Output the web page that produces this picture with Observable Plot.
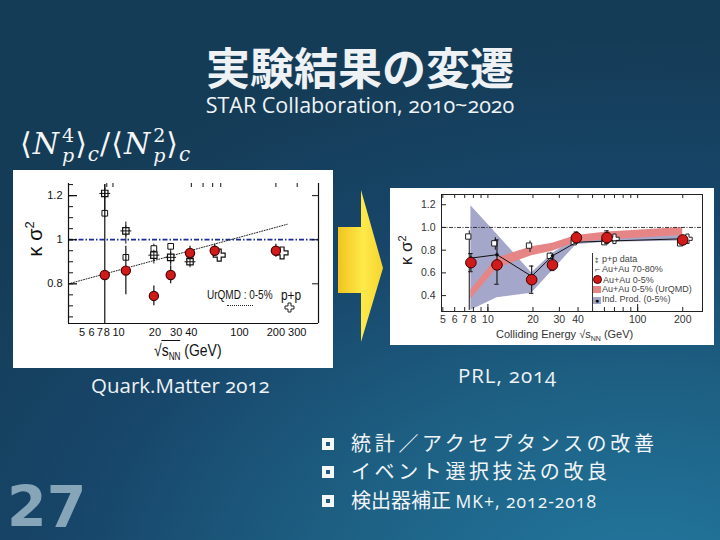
<!DOCTYPE html>
<html><head><meta charset="utf-8">
<script src="https://cdn.jsdelivr.net/npm/d3@7"></script>
<script src="https://cdn.jsdelivr.net/npm/@observablehq/plot@0.6"></script>
<style>
body{margin:0;background:#163f5b}
#slide{position:relative;width:720px;height:540px;overflow:hidden;
 background: radial-gradient(ellipse 820px 560px at 640px 600px, #2379a1 0%, #1d5f82 40%, #17466a 70%, #153c57 100%);
 font-family:"Open Sans",sans-serif;color:#f2f5f7}
.abs{position:absolute;white-space:nowrap;line-height:1}
.box{position:absolute;background:#fff;overflow:hidden}
.box svg{position:absolute;left:0;top:0}
.bul{position:absolute;left:322px;width:4px;height:4px;border:4px solid #f4f6f8}
.jp{font-family:"Noto Sans CJK JP",sans-serif}
.on{font-variant-numeric:oldstyle-nums}
.narrow{transform-origin:left center}
.stk{display:inline-block;vertical-align:-8px;line-height:1.05;font-size:19px;margin-left:2px}
</style></head><body>
<div id="slide">
  <div class="abs jp" style="left:0;width:720px;text-align:center;top:44px;font-size:44px;font-weight:700;color:#eef2f5">実験結果の変遷</div>
  <div class="abs on" style="left:0;width:720px;text-align:center;top:94px;font-size:21.5px;color:#f0f3f5">STAR Collaboration, 2010~2020</div>
  <div class="abs" style="left:20px;top:126px;font-family:'DejaVu Serif',serif;font-size:30px;color:#f4f6f8;letter-spacing:1px">
    <span style="font-family:'DejaVu Sans'">⟨</span><i>N</i><span class="stk"><span style="display:block">4</span><i style="display:block">p</i></span><span style="font-family:'DejaVu Sans'">⟩</span><i style="font-size:20px;vertical-align:-7px">c</i><span>/</span><span style="font-family:'DejaVu Sans'">⟨</span><i>N</i><span class="stk"><span style="display:block">2</span><i style="display:block">p</i></span><span style="font-family:'DejaVu Sans'">⟩</span><i style="font-size:20px;vertical-align:-7px">c</i>
  </div>

  <div class="box" id="left" style="left:13px;top:170px;width:320px;height:198px"></div>
  <div class="box" id="right" style="left:390px;top:188px;width:324px;height:157px"></div>

  <svg class="abs" style="left:0;top:0" width="720" height="540">
    <defs><linearGradient id="ag" x1="0" x2="1" y1="0" y2="0">
      <stop offset="0" stop-color="#efc41e"/><stop offset="0.55" stop-color="#ffe94a"/><stop offset="1" stop-color="#f6d52e"/></linearGradient></defs>
    <polygon points="338,227 361,227 361,190 383,268 361,342 361,293 338,293" fill="url(#ag)"/>
    <path d="M288,303 h3 v3 h3 v3 h-3 v3 h-3 v-3 h-3 v-3 h3 z" fill="white" stroke="#222" stroke-width="1"/>
  </svg>

  <div class="abs on" style="left:91px;top:375px;font-size:20.5px;color:#eef2f5">Quark.Matter 2012</div>
  <div class="abs on" style="left:458px;top:365px;font-size:20.5px;letter-spacing:0.9px;color:#eef2f5">PRL, 2014</div>

  <div class="bul" style="top:438px"></div>
  <div class="abs jp" style="left:351px;top:433px;font-size:20px;letter-spacing:3.7px">統計／アクセプタンスの改善</div>
  <div class="bul" style="top:466px"></div>
  <div class="abs jp" style="left:351px;top:461px;font-size:20px;letter-spacing:3.6px">イベント選択技法の改良</div>
  <div class="bul" style="top:495px"></div>
  <div class="abs jp" style="left:351px;top:490px;font-size:20px">検出器補正 <span class="on" style="font-family:'Open Sans';font-size:17.5px;letter-spacing:1px">MK+, 2012-2018</span></div>

  <div class="abs" style="left:7px;top:480px;font-family:'DejaVu Sans';font-weight:700;font-size:57px;line-height:0.95;color:#86a5b9">27</div>

  <div class="abs" style="left:12px;top:228px;width:44px;text-align:center;transform:rotate(-90deg);font-family:'Liberation Sans';font-size:20px;color:#111">κ σ<sup style="font-size:13px">2</sup></div>
  <div class="abs narrow" style="left:154px;top:342px;transform:scaleX(0.82);font-family:'Liberation Sans';font-size:17px;color:#111">√<span style="border-top:1px solid #111">s<sub style="font-size:10px">NN</sub></span> (GeV)</div>
  <div class="abs narrow" style="left:207px;top:289px;transform:scaleX(0.8);font-family:'Liberation Sans';font-size:12.5px;color:#111">UrQMD : 0-5%</div>
  <div class="abs narrow" style="left:281px;top:288px;transform:scaleX(0.85);font-family:'Liberation Sans';font-size:14px;color:#111">p+p</div>
  <div class="abs" style="left:227px;top:305px;width:26px;border-top:1px dotted #222"></div>

  <div class="abs" style="left:386px;top:241px;width:40px;text-align:center;transform:rotate(-90deg);font-family:'Liberation Sans';font-size:17px;color:#222">κ σ<sup style="font-size:11px">2</sup></div>
  <div class="abs" style="left:496px;top:329px;font-family:'Liberation Sans';font-size:11px;color:#333">Colliding Energy √s<sub style="font-size:7px">NN</sub> (GeV)</div>
  <div class="abs" style="left:592px;top:253px;height:58px;border-left:1px solid #333"></div>
  <div class="abs" id="leg" style="left:595px;top:255px;font-family:'Liberation Sans';font-size:9px;color:#444;line-height:9.4px">
    <div><span style="display:inline-block;width:7px;font-size:6px">⁑</span>p+p data</div>
    <div><span style="display:inline-block;width:7px">⌐</span>Au+Au 70-80%</div>
    <div><span style="display:inline-block;width:7px;height:7px;border-radius:50%;background:#d01a1a;border:1px solid #500;margin-left:-2px;margin-right:1px;vertical-align:-1px"></span>Au+Au 0-5%</div>
    <div><span style="display:inline-block;width:8px;height:7px;background:#e58585;margin-left:-2px;margin-right:1px;vertical-align:-1px"></span>Au+Au 0-5% (UrQMD)</div>
    <div><span style="display:inline-block;width:8px;height:7px;background:#a4a6ca;margin-left:-2px;margin-right:1px;vertical-align:-1px;text-align:center;font-size:7px;line-height:7px;color:#000">●</span>Ind. Prod. (0-5%)</div>
  </div>
</div>
<script>
const energies = [7.7, 11.5, 19.6, 27, 39, 62.4, 200];

const qmCentral   = [0.84, 0.86, 0.745, 0.84, 0.94, 0.95, 0.95];
const qmCentralLo = [0.62, 0.75, 0.70, 0.80, 0.91, 0.92, 0.92];
const qmCentralHi = [1.25, 0.97, 0.79, 0.88, 0.97, 0.98, 0.98];
const qmOtherEnergy = [7.7, 11.5, 19.6, 27, 39];
const qmPeriph    = [1.21, 1.04, 0.93, 0.92, 0.90];
const qmPeriphLo  = [1.10, 0.98, 0.89, 0.88, 0.88];
const qmPeriphHi  = [1.25, 1.08, 0.98, 0.98, 0.92];
const qmMid       = [1.12, 0.92, 0.96, 0.97, 0.92];
const qmPpEnergy  = [68, 225];
const qmPpValue   = [0.93, 0.94];
const qmUrqmdEnergy = [3.86, 248];
const qmUrqmdValue  = [0.80, 1.07];
const leftXTicks = [5, 6, 7, 8, 10, 20, 30, 40, 100, 200, 300];
const leftYTicks = [0.8, 1, 1.2];

const prlCentral   = [0.69, 0.67, 0.54, 0.67, 0.91, 0.91, 0.89];
const prlCentralLo = [0.61, 0.50, 0.42, 0.62, 0.87, 0.86, 0.87];
const prlCentralHi = [0.77, 0.89, 0.66, 0.73, 0.96, 0.97, 0.91];
const prlPeriph    = [0.92, 0.86, 0.84, 0.75, 0.87, 0.87, 0.86];
const prlPeriphLo  = [0.27, 0.80, 0.78, 0.72, 0.85, 0.85, 0.84];
const prlPeriphHi  = [0.97, 0.91, 0.88, 0.78, 0.89, 0.89, 0.88];
const prlIndProd   = [0.73, 0.76, 0.57, 0.75, 0.87, 0.88, 0.90];
const prlIndLo     = [0.27, 0.38, 0.42, 0.62, 0.85, 0.87, 0.88];
const prlIndHi     = [1.19, 0.94, 0.60, 0.77, 0.91, 0.92, 0.93];
const prlUrqmdLo   = [0.37, 0.64, 0.75, 0.79, 0.87, 0.89, 0.93];
const prlUrqmdHi   = [0.45, 0.73, 0.83, 0.86, 0.93, 0.96, 1.00];
const prlPpEnergy  = [70, 215];
const prlPpValue   = [0.90, 0.90];
const rightXTicks = [5, 6, 7, 8, 10, 20, 30, 40, 100, 200];
const rightYTicks = [0.4, 0.6, 0.8, 1.0, 1.2];
const minorX = [5,6,7,8,9,10,20,30,40,50,60,70,80,90,100,200];

{
  const W = 320, H = 198, mL = 55, mR = 15, mT = 13, mB = 45;
  const pH = H - mT - mB, pW = W - mL - mR;
  const xDom = [3.86, 450], yDom = [0.62, 1.255];
  const central = energies.map((e, i) => ({x: e, y: qmCentral[i], lo: qmCentralLo[i], hi: qmCentralHi[i]}));
  const other = qmOtherEnergy.map((e, i) => ({x: e, p: qmPeriph[i], lo: qmPeriphLo[i], hi: qmPeriphHi[i], m: qmMid[i]}));
  const pp = qmPpEnergy.map((e, i) => ({x: e, y: qmPpValue[i]}));
  const urqmd = qmUrqmdEnergy.map((e, i) => ({x: e, y: qmUrqmdValue[i]}));
  const yMinor = d3.range(0.65, 1.26, 0.05);
  const chart = Plot.plot({
    width: W, height: H, marginLeft: mL, marginRight: mR, marginTop: mT, marginBottom: mB,
    style: {fontFamily: "'Liberation Sans',sans-serif", fontSize: "11px", color: "#111", background: "white", overflow: "visible"},
    x: {type: "log", domain: xDom, axis: null},
    y: {domain: yDom, axis: null},
    marks: [
      Plot.ruleY([1], {stroke: "#1c2a9c", strokeWidth: 1.7, strokeDasharray: "5,2,1.5,2"}),
      Plot.line(urqmd, {x: "x", y: "y", stroke: "#222", strokeWidth: 1, strokeDasharray: "1,1.6"}),
      Plot.ruleX(other, {x: "x", y1: "lo", y2: "hi", stroke: "#111", strokeWidth: 1}),
      Plot.dot(other, {x: "x", y: "m", symbol: "square", r: 3.2, fill: "white", stroke: "#111", strokeWidth: 1}),
      Plot.dot(other, {x: "x", y: "p", symbol: "square", r: 3.6, fill: "white", stroke: "#111", strokeWidth: 1.2}),
      Plot.dot(other, {x: "x", y: "p", symbol: "plus", r: 3.6, stroke: "#111", strokeWidth: 1}),
      Plot.ruleX(central, {x: "x", y1: "lo", y2: "hi", stroke: "#111", strokeWidth: 1.2}),
      Plot.dot(pp, {x: "x", y: "y", symbol: "cross", r: 5, fill: "white", stroke: "#111", strokeWidth: 1.2}),
      Plot.dot(central, {x: "x", y: "y", r: 4.6, fill: "#d11a1a", stroke: "#4a0000", strokeWidth: 1.2}),
      Plot.ruleX(xDom, {stroke: "#111", strokeWidth: 1.2}),
      Plot.ruleY([yDom[0]], {stroke: "#111", strokeWidth: 1.2}),
      Plot.tickY(yMinor, {y: d => d, insetRight: pW - 5, stroke: "#111"}),
      Plot.tickY(leftYTicks, {y: d => d, insetRight: pW - 9, stroke: "#111", strokeWidth: 1.3}),
      Plot.tickY(leftYTicks, {y: d => d, insetLeft: pW - 6, stroke: "#111"}),
      Plot.tickX([8, 9, 40, 50, 60, 70, 200, 300], {x: d => d, insetBottom: pH - 4, stroke: "#111"}),
      Plot.text(leftXTicks, {x: d => d, frameAnchor: "bottom", lineAnchor: "top", dy: 5, text: d => String(d), fill: "#111"}),
      Plot.text(leftYTicks, {y: d => d, frameAnchor: "left", textAnchor: "end", dx: -6, text: d => d === 1 ? "1" : d.toFixed(1), fill: "#111"})
    ]
  });
  document.getElementById("left").appendChild(chart);
}

{
  const W = 324, H = 157, mL = 51, mR = 12, mT = 6, mB = 34;
  const pH = H - mT - mB, pW = W - mL - mR;
  const xDom = [4.9, 271], yDom = [0.26, 1.29];
  const rows = energies.map((e, i) => ({
    x: e, y: prlCentral[i], lo: prlCentralLo[i], hi: prlCentralHi[i],
    p: prlPeriph[i], plo: prlPeriphLo[i], phi: prlPeriphHi[i],
    ind: prlIndProd[i], ilo: prlIndLo[i], ihi: prlIndHi[i],
    ulo: prlUrqmdLo[i], uhi: prlUrqmdHi[i]
  }));
  const pp = prlPpEnergy.map((e, i) => ({x: e, y: prlPpValue[i]}));
  const chart = Plot.plot({
    width: W, height: H, marginLeft: mL, marginRight: mR, marginTop: mT, marginBottom: mB,
    style: {fontFamily: "'Liberation Sans',sans-serif", fontSize: "10.5px", color: "#333", background: "white", overflow: "visible"},
    x: {type: "log", domain: xDom, axis: null},
    y: {domain: yDom, axis: null},
    marks: [
      Plot.areaY(rows, {x: "x", y1: "ilo", y2: "ihi", fill: "#a4a6ca"}),
      Plot.areaY(rows, {x: "x", y1: "ulo", y2: "uhi", fill: "#e58585"}),
      Plot.ruleY([1], {stroke: "#222", strokeWidth: 0.9, strokeDasharray: "4,1.5,1,1.5"}),
      Plot.ruleX(rows, {x: d => d.x * 0.975, y1: "plo", y2: "phi", stroke: "#111", strokeWidth: 1}),
      Plot.dot(rows, {x: d => d.x * 0.96, y: "p", symbol: "square", r: 3, fill: "white", stroke: "#222", strokeWidth: 1}),
      Plot.dot(pp, {x: "x", y: "y", symbol: "cross", r: 4, fill: "white", stroke: "#222", strokeWidth: 1}),
      Plot.line(rows, {x: "x", y: "ind", stroke: "#111", strokeWidth: 1}),
      Plot.dot(rows, {x: "x", y: "ind", r: 1.8, fill: "#111"}),
      Plot.ruleX(rows, {x: "x", y1: "lo", y2: "hi", stroke: "#111", strokeWidth: 1.1}),
      Plot.ruleY(rows, {y: "lo", x1: d => d.x / 1.035, x2: d => d.x * 1.035, stroke: "#111", strokeWidth: 1}),
      Plot.ruleY(rows, {y: "hi", x1: d => d.x / 1.035, x2: d => d.x * 1.035, stroke: "#111", strokeWidth: 1}),
      Plot.dot(rows, {x: "x", y: "y", r: 5.3, fill: "#d11a1a", stroke: "#3a0000", strokeWidth: 1}),
      Plot.frame({stroke: "#222", strokeWidth: 1}),
      Plot.tickY(rightYTicks, {y: d => d, insetRight: pW - 5, stroke: "#222"}),
      Plot.tickX(minorX, {x: d => d, insetTop: pH - 4, stroke: "#222"}),
      Plot.tickX(minorX, {x: d => d, insetBottom: pH - 4, stroke: "#222"}),
      Plot.tickX([10, 100], {x: d => d, insetTop: pH - 7, stroke: "#222"}),
      Plot.text(rightXTicks, {x: d => d, frameAnchor: "bottom", lineAnchor: "top", dy: 4, text: d => String(d), fill: "#333"}),
      Plot.text(rightYTicks, {y: d => d, frameAnchor: "left", textAnchor: "end", dx: -6, text: d => d.toFixed(1), fill: "#333"})
    ]
  });
  document.getElementById("right").appendChild(chart);
}
</script>
</body></html>
